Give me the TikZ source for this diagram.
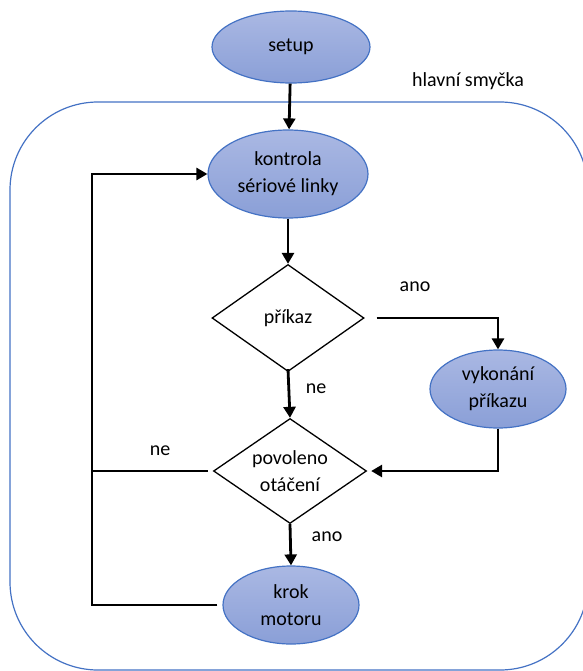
\documentclass[tikz,border=0pt]{standalone}
\usepackage{fontspec}
\setmainfont{Carlito}
\usetikzlibrary{shapes.geometric,arrows.meta}
\definecolor{edgeblue}{RGB}{68,114,196}
\definecolor{filltop}{RGB}{170,184,227}
\definecolor{fillbot}{RGB}{138,159,215}
\tikzset{
  every node/.style={font=\fontsize{20}{27}\selectfont, align=center},
  termbox/.style={ellipse, draw=edgeblue, line width=1.2pt, top color=filltop, bottom color=fillbot, inner sep=0pt},
  decbox/.style={diamond, draw=black, line width=1.3pt, fill=white, inner sep=0pt, aspect=1.457},
  flow/.style={line width=2.8pt, -{Triangle[length=11pt,width=12pt]}},
  plain/.style={line width=2.8pt},
  lbl/.style={inner sep=1pt}
}
\begin{document}
\begin{tikzpicture}[x=1pt, y=-1pt]
\useasboundingbox (0,0) rectangle (582,671);

% main loop frame
\node[draw=edgeblue, line width=1.2pt, rounded corners=88pt, minimum width=578pt, minimum height=568pt, inner sep=0pt] (frame) at (299,386) {};
\node[lbl] (framelbl) at (468,81) {hlavní smyčka};

% blocks
\node[termbox, minimum width=158pt, minimum height=72pt] (setup) at (291,47) {setup};
\node[termbox, minimum width=160pt, minimum height=88pt] (serial) at (288,174) {kontrola\\sériové linky};
\node[decbox, minimum width=152pt, minimum height=107pt] (cmd) at (288,318) {příkaz};
\node[termbox, minimum width=136pt, minimum height=78pt] (exec) at (498,389) {vykonání\\příkazu};
\node[decbox, minimum width=153pt, minimum height=105pt] (enable) at (290,471) {povoleno\\otáčení};
\node[termbox, minimum width=136pt, minimum height=78pt] (step) at (291,605) {krok\\motoru};

\coordinate (back) at (92,174);

% connectors
\draw[flow] (setup) -- (serial);
\draw[flow] (serial) -- (cmd);
\draw[flow] ([xshift=12pt]cmd.east) -| (exec.north);
\draw[flow] ([yshift=3pt]cmd.south) -- (enable.north);
\draw[flow] (exec.south) |- ([xshift=4pt]enable.east);
\draw[flow] (enable.south) -- (step.north);
\draw[plain] ([xshift=-5pt]enable.west) -- (enable.west -| back);
\draw[flow] ([xshift=-5pt]step.west) -| (back) -- (serial.west);

% branch labels
\node[lbl] (yes1) at (415,287) {ano};
\node[lbl] (no1) at (316,389) {ne};
\node[lbl] (no2) at (160,451) {ne};
\node[lbl] (yes2) at (327,537) {ano};
\end{tikzpicture}
\end{document}
